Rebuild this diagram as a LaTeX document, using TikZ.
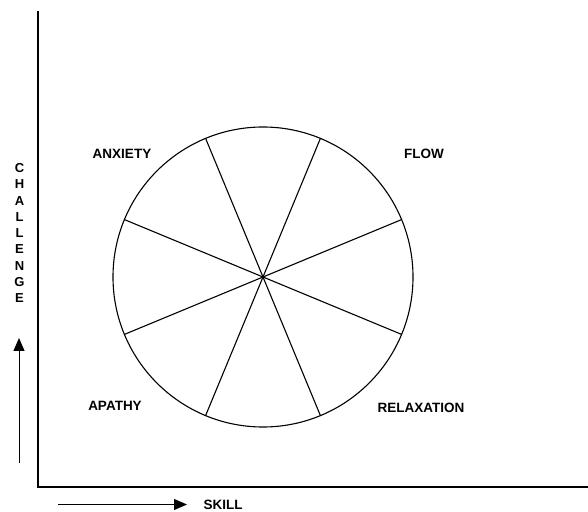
\documentclass[tikz,border=0pt]{standalone}
\usepackage{fontspec}
\setmainfont{Liberation Sans}
\usepackage{tikz}
\usetikzlibrary{arrows.meta, calc}

\begin{document}
\begin{tikzpicture}[x=1pt, y=1pt, >={Triangle[length=13pt, width=11pt]},
  lbl/.style={font=\fontsize{13.5}{16}\selectfont\bfseries, inner sep=0pt}]
\useasboundingbox (0,0) rectangle (588,511);
% axes
\coordinate (origin) at (38,24);
\coordinate (ytop) at (38,500);
\coordinate (xend) at (588,24);
\draw[line width=1.6pt] (ytop) -- (origin) -- (xend);
% direction arrows
\coordinate (cbot) at (19,48);
\coordinate (ctip) at (19,173);
\draw[->, line width=1pt] (cbot) -- (ctip);
\coordinate (sleft) at (58,6.5);
\coordinate (stip) at (187,6.5);
\draw[->, line width=1pt] (sleft) -- (stip);
\node[lbl, anchor=base] (skill) at (223,2) {SKILL};
\node[lbl, align=center, font=\fontsize{13}{16.25}\selectfont\bfseries] (challenge) at (19.5,278) {C\\H\\A\\L\\L\\E\\N\\G\\E};
% wheel of eight sectors
\coordinate (ctr) at (263,234);
\draw[line width=1.1pt] (ctr) circle (150);
\foreach \a in {22.5,67.5,112.5,157.5}{ \draw[line width=1.1pt] ($(ctr)+(\a:150)$) -- ($(ctr)+(\a+180:150)$); }
% quadrant names
\node[lbl] (anxiety) at (122,357) {ANXIETY};
\node[lbl] (flow) at (424,357) {FLOW};
\node[lbl] (apathy) at (115,105) {APATHY};
\node[lbl] (relax) at (421,103) {RELAXATION};
\end{tikzpicture}
\end{document}
